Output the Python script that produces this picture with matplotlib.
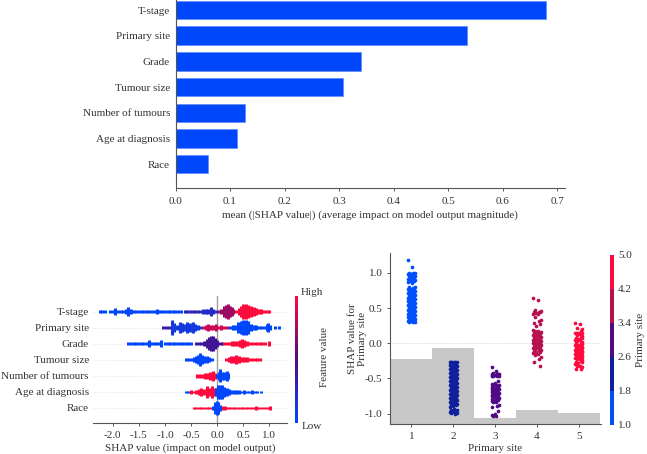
import numpy as np
import matplotlib
matplotlib.use('Agg')
import matplotlib.pyplot as plt
from matplotlib.colors import LinearSegmentedColormap, ListedColormap, BoundaryNorm, Normalize
from matplotlib.cm import ScalarMappable

W, H = 647, 454
plt.rcParams['font.family'] = ['Liberation Serif', 'DejaVu Serif']
plt.rcParams['font.size'] = 8.05
plt.rcParams['axes.unicode_minus'] = False
plt.rcParams['text.color'] = '#333333'
plt.rcParams['axes.labelcolor'] = '#333333'
plt.rcParams['xtick.color'] = '#333333'
plt.rcParams['ytick.color'] = '#333333'

BLUE = '#0047fb'
RED = '#ff0a3c'

# mean |SHAP| bars
features = ['T-stage', 'Primary site', 'Grade', 'Tumour size', 'Number of tumours', 'Age at diagnosis', 'Race']
mean_shap = [0.68, 0.535, 0.34, 0.307, 0.128, 0.113, 0.059]
bar_ticks = [0.0, 0.1, 0.2, 0.3, 0.4, 0.5, 0.6, 0.7]

# beeswarm: x position, swarm height, feature value (0 low .. 1 high)
tstage_x = [-2.25, -2.2, -2.15, -2.05, -2.0, -1.95, -1.9, -1.85, -1.8, -1.75, -1.7, -1.65, -1.6, -1.55, -1.5, -1.45, -1.4, -1.35, -1.3, -1.25, -1.2, -1.15, -1.1, -1.05, -1.0, -0.95, -0.9, -0.85, -0.8, -0.75, -0.7,
            -0.62, -0.57, -0.52, -0.47, -0.42, -0.37,
            -0.32, -0.27, -0.22, -0.17, -0.12, -0.08, -0.03,
            0.03, 0.08, 0.13, 0.17, 0.2, 0.24, 0.28, 0.31,
            0.37, 0.42, 0.46, 0.5, 0.55, 0.6, 0.65, 0.7, 0.75, 0.8, 0.85, 0.9, 0.95, 1.0]
tstage_n = [2, 2, 1, 1, 1, 5, 2, 1, 2, 3, 7, 4, 2, 1, 1, 2, 1, 2, 1, 1, 1, 4, 2, 1, 2, 1, 1, 2, 1, 1, 1,
            1, 1, 2, 1, 1, 1,
            2, 3, 4, 4, 8, 4, 2,
            2, 4, 9, 12, 13, 10, 7, 3,
            1, 6, 10, 13, 13, 11, 9, 7, 5, 4, 3, 2, 2, 2]
tstage_v = [0.0] * 31 + [0.3] * 6 + [0.22] * 7 + [0.72] * 8 + [1.0] * 14

primary_x = [-1.03, -0.98, -0.93, -0.87, -0.82, -0.77, -0.72, -0.67, -0.62, -0.57, -0.52, -0.47, -0.42, -0.37, -0.32,
             -0.27, -0.22, -0.17, -0.12, -0.07, -0.02, 0.03, 0.08, 0.13, 0.18,
             0.25, 0.3, 0.35, 0.4, 0.45, 0.5, 0.55, 0.6, 0.65, 0.7, 0.75, 0.8, 0.85, 0.9, 0.95, 0.98, 1.02, 1.11, 1.18]
primary_n = [1, 1, 2, 13, 7, 4, 10, 8, 6, 10, 7, 9, 5, 3, 2,
             2, 3, 5, 3, 3, 5, 2, 3, 2, 2,
             2, 3, 4, 9, 12, 13, 13, 11, 6, 3, 3, 2, 2, 2, 5, 7, 3, 1, 1]
primary_v = [0.35] * 3 + [0.12] * 12 + [0.85] * 10 + [0.0] * 19

grade_x = [-1.7, -1.65, -1.6, -1.55, -1.5, -1.45, -1.4, -1.35, -1.3, -1.25, -1.2, -1.15, -1.1, -1.07, -1.0, -0.95, -0.9, -0.85, -0.8, -0.75, -0.7, -0.65, -0.6, -0.55, -0.5,
           -0.4, -0.35, -0.3, -0.25, -0.2, -0.16, -0.12, -0.08, -0.04, 0.0, 0.05, 0.09,
           0.13, 0.18, 0.23, 0.28, 0.33, 0.38, 0.43, 0.47, 0.52, 0.57, 0.62, 0.67, 0.72, 0.77, 0.82, 0.87, 0.92, 0.99]
grade_n = [1, 1, 1, 1, 1, 1, 1, 1, 5, 1, 1, 1, 1, 5, 1, 1, 1, 1, 1, 1, 2, 1, 1, 1, 1,
           1, 1, 1, 3, 8, 12, 13, 13, 10, 6, 2, 1,
           1, 2, 2, 3, 3, 3, 5, 8, 5, 3, 2, 2, 2, 2, 1, 1, 2, 3]
grade_v = [0.0] * 25 + [0.42] * 12 + [1.0] * 18

tumour_x = [-0.6, -0.55, -0.5, -0.45, -0.4, -0.37, -0.33, -0.29, -0.25, -0.2, -0.15, -0.1,
            0.17, 0.22, 0.27, 0.32, 0.37, 0.42, 0.47, 0.52, 0.57, 0.62, 0.67, 0.72, 0.77, 0.82]
tumour_n = [1, 2, 2, 3, 5, 8, 12, 7, 5, 5, 3, 1,
            2, 3, 5, 6, 7, 6, 4, 3, 3, 2, 2, 2, 2, 1]
tumour_v = [0.0] * 12 + [1.0] * 14

number_x = [-0.38, -0.33, -0.28, -0.23, -0.18, -0.13, -0.08, -0.04,
            0.0, 0.03, 0.06, 0.1, 0.14, 0.18, 0.2]
number_n = [2, 3, 3, 4, 5, 7, 8, 4,
            3, 6, 11, 7, 7, 8, 4]
number_v = [1.0] * 8 + [0.0] * 7

age_x = [-0.6, -0.55, -0.5, -0.45, -0.4, -0.35, -0.3, -0.25, -0.2, -0.15, -0.1, -0.05,
         -0.02, 0.02, 0.06, 0.1, 0.14, 0.18, 0.22, 0.27, 0.32, 0.37, 0.42, 0.47, 0.52, 0.57, 0.62, 0.67, 0.72, 0.77, 0.85]
age_n = [1, 1, 2, 1, 3, 4, 7, 5, 10, 6, 11, 6,
         7, 12, 13, 12, 9, 6, 5, 2, 2, 2, 2, 1, 2, 1, 1, 2, 1, 1, 1]
age_v = [0.05, 0.05] + [1.0] * 10 + [0.0] * 19

race_x = [-0.45, -0.4, -0.35, -0.3, -0.25, -0.2, -0.15, -0.1, -0.05,
          0.05, 0.1, 0.15, 0.2, 0.25, 0.3, 0.35, 0.4, 0.45, 0.5, 0.55, 0.6, 0.65, 0.7, 0.75, 0.8, 0.87, 0.92, 0.97, 1.01,
          -0.07, -0.04, -0.01, 0.02, 0.05]
race_n = [1, 1, 1, 1, 1, 1, 1, 1, 2,
          2, 2, 2, 1, 1, 1, 1, 1, 1, 1, 1, 1, 1, 1, 2, 1, 1, 1, 1, 2,
          3, 10, 12, 10, 4]
race_v = [1.0] * 29 + [0.0] * 5

swarm_x = [tstage_x, primary_x, grade_x, tumour_x, number_x, age_x, race_x]
swarm_n = [tstage_n, primary_n, grade_n, tumour_n, number_n, age_n, race_n]
swarm_v = [tstage_v, primary_v, grade_v, tumour_v, number_v, age_v, race_v]
swarm_ticks = [-2.0, -1.5, -1.0, -0.5, 0.0, 0.5, 1.0]

# dependence plot, SHAP value of each patient per primary site
site_1 = [1.18, 1.09, 1.0, 1.0, 1.0, 0.99, 0.99, 0.98, 0.98, 0.97, 0.97, 0.96, 0.95, 0.95, 0.94, 0.93, 0.92, 0.92, 0.91, 0.9, 0.9, 0.89, 0.88, 0.88, 0.87, 0.86,
          0.8, 0.8, 0.79, 0.79, 0.78, 0.77, 0.77, 0.76, 0.75, 0.75, 0.74, 0.73, 0.72, 0.72, 0.71, 0.7, 0.7, 0.69, 0.68, 0.67, 0.67, 0.66, 0.65, 0.65, 0.64, 0.63, 0.62, 0.62, 0.61, 0.6,
          0.6, 0.59, 0.58, 0.57, 0.57, 0.56, 0.55, 0.55, 0.54, 0.53, 0.52, 0.52, 0.51, 0.5, 0.5, 0.49, 0.48, 0.47, 0.47, 0.46, 0.45, 0.45, 0.44, 0.43, 0.42, 0.42, 0.41, 0.4, 0.4,
          0.39, 0.38, 0.37, 0.37, 0.36, 0.35, 0.35, 0.34, 0.33, 0.33, 0.32, 0.32, 0.31, 0.31, 0.3, 0.3, 0.3]
site_2 = [-0.26, -0.26, -0.26, -0.27, -0.27, -0.27, -0.28, -0.28, -0.31, -0.31, -0.32, -0.32, -0.33, -0.34, -0.34, -0.35, -0.36, -0.37, -0.37, -0.38, -0.39, -0.4, -0.4, -0.41, -0.42, -0.43, -0.43, -0.44, -0.45, -0.46,
          -0.46, -0.47, -0.48, -0.49, -0.49, -0.5, -0.51, -0.52, -0.52, -0.53, -0.54, -0.55, -0.55, -0.56, -0.57, -0.58, -0.58, -0.59, -0.6, -0.61, -0.61, -0.62, -0.63, -0.64, -0.64, -0.65, -0.66, -0.67, -0.67, -0.68,
          -0.69, -0.7, -0.7, -0.71, -0.72, -0.73, -0.73, -0.74, -0.75, -0.76, -0.76, -0.77, -0.78, -0.79, -0.79, -0.8, -0.81, -0.82, -0.82, -0.83, -0.84, -0.85, -0.85, -0.86, -0.87, -0.88, -0.88, -0.89, -0.9,
          -0.94, -0.95, -0.95, -0.96, -0.96, -0.97, -0.97, -0.98, -0.98, -0.99, -0.99, -1.0]
site_3 = [-0.34, -0.39, -0.42, -0.43, -0.43, -0.44, -0.44, -0.45, -0.45, -0.45, -0.46, -0.46, -0.47, -0.47, -0.53, -0.56, -0.58, -0.59, -0.6, -0.6, -0.61, -0.62, -0.62, -0.63, -0.63, -0.64, -0.65, -0.65, -0.66, -0.67,
          -0.67, -0.68, -0.69, -0.7, -0.7, -0.71, -0.72, -0.73, -0.73, -0.74, -0.75, -0.76, -0.77, -0.78, -0.78, -0.79, -0.8, -0.81, -0.82, -0.83, -0.84, -0.88, -0.89, -0.91, -0.97, -1.0, -1.02, -1.03, -1.03]
site_4 = [0.65, 0.62, 0.47, 0.46, 0.45, 0.44, 0.44, 0.43, 0.42, 0.41, 0.38, 0.33, 0.31, 0.29, 0.28, 0.25, 0.19, 0.18, 0.17, 0.16, 0.15, 0.14, 0.13, 0.13, 0.12, 0.11, 0.1, 0.09, 0.09, 0.08, 0.07, 0.06, 0.05, 0.05, 0.04, 0.03,
          0.03, 0.02, 0.01, 0.0, 0.0, -0.01, -0.02, -0.02, -0.03, -0.04, -0.05, -0.05, -0.06, -0.07, -0.08, -0.09, -0.1, -0.11, -0.12, -0.13, -0.14, -0.15, -0.17, -0.2, -0.22, -0.26, -0.32]
site_5 = [0.29, 0.27, 0.22, 0.2, 0.18, 0.15, 0.15, 0.14, 0.14, 0.13, 0.12, 0.1, 0.09, 0.08, 0.07, 0.06, 0.05, 0.05, 0.03, 0.02, 0.01, 0.0, -0.01, -0.02, -0.03, -0.04, -0.04, -0.05, -0.06, -0.07, -0.07, -0.08, -0.09, -0.1, -0.1, -0.11,
          -0.12, -0.13, -0.13, -0.14, -0.15, -0.16, -0.16, -0.17, -0.18, -0.19, -0.19, -0.2, -0.21, -0.22, -0.23, -0.24, -0.25, -0.26, -0.27, -0.28, -0.3, -0.32, -0.33, -0.34, -0.36, -0.37]
site_values = [site_1, site_2, site_3, site_4, site_5]
site_colors = ['#0050ff', '#10209c', '#4f0a84', '#b8104f', '#ff0a3c']
site_hist = [-0.22, -0.06, -1.06, -0.953, -0.99]
site_bounds = [1.0, 1.8, 2.6, 3.4, 4.2, 5.0]
jitter = [-0.085, 0.025, -0.045, 0.085, 0.05, -0.065, 0.07, -0.015]


def px_axes(fig, left, top, right, bottom):
    return fig.add_axes([left / W, 1 - bottom / H, (right - left) / W, (bottom - top) / H])


def tidy(ax, pad):
    for s in ['top', 'right']:
        ax.spines[s].set_visible(False)
    for s in ['left', 'bottom']:
        ax.spines[s].set_color('#555555')
    ax.tick_params(length=2, width=0.7, pad=pad, color='#555555')


fig = plt.figure(figsize=(W / 100, H / 100), dpi=100)

# top: bars
ax1 = px_axes(fig, 175.5, 0, 565, 188.3)
ax1.barh(range(len(features)), mean_shap, height=0.72, color=BLUE, edgecolor='#5f8cff', linewidth=0.5)
ax1.set_xlim(0, 0.714)
ax1.set_ylim(6.94, -0.39)
ax1.set_yticks(range(len(features)), features)
ax1.set_xticks(bar_ticks)
ax1.set_xlabel('mean (|SHAP value|) (average impact on model output magnitude)', labelpad=3.5)
tidy(ax1, 4)
ax1.tick_params(axis='y', length=0, pad=4)

# bottom left: beeswarm
shap_cmap = LinearSegmentedColormap.from_list('shap', [BLUE, '#4f0a84', RED])
ax2 = px_axes(fig, 93, 296, 287, 423)
for row in range(len(features)):
    ax2.axhline(row, color='#e6e6e6', lw=0.6, ls=(0, (1, 1)), zorder=0)
ax2.axvline(0, color='#a0a0a0', lw=1.0, zorder=1)
step = 1 / 16
for row in range(len(features)):
    for x, n, v in zip(swarm_x[row], swarm_n[row], swarm_v[row]):
        half = (n + 1.5) * step / 2
        ax2.vlines(x, row - half, row + half, color=shap_cmap(v), lw=2.2, zorder=2)
ax2.set_xlim(-2.38, 1.34)
ax2.set_ylim(6.95, -0.98)
ax2.set_yticks(range(len(features)), features)
ax2.set_xticks(swarm_ticks)
ax2.set_xlabel('SHAP value (impact on model output)', labelpad=2.5)
tidy(ax2, 3.5)
ax2.spines['left'].set_visible(False)
ax2.tick_params(axis='y', length=0, pad=3)

cax2 = px_axes(fig, 295, 296, 298, 423)
cb2 = fig.colorbar(ScalarMappable(Normalize(0, 1), shap_cmap), cax=cax2)
cb2.set_ticks([])
cb2.outline.set_visible(False)
cax2.text(1.9, 1.024, 'High', transform=cax2.transAxes, va='center', ha='left')
cax2.text(2.3, -0.03, 'Low', transform=cax2.transAxes, va='center', ha='left')
cb2.set_label('Feature value')
cax2.yaxis.set_label_coords(8.3, 0.52)

# bottom right: dependence plot
ax3 = px_axes(fig, 390, 253, 600.7, 424)
ymin = -1.148
ax3.bar(range(1, 6), [h - ymin for h in site_hist], width=1.0, bottom=ymin, color='#c8c8c8', linewidth=0, zorder=1)
ax3.axhline(0, color='#d5d5d5', lw=0.6, ls=(0, (1, 1)), zorder=1)
for i, values in enumerate(site_values):
    xs = [i + 1 + jitter[k % len(jitter)] for k in range(len(values))]
    ax3.scatter(xs, values, s=7, color=site_colors[i], linewidths=0, zorder=3)
ax3.set_xlim(0.49, 5.52)
ax3.set_ylim(ymin, 1.284)
ax3.set_xticks([1, 2, 3, 4, 5])
ax3.set_yticks([-1.0, -0.5, 0.0, 0.5, 1.0])
ax3.set_xlabel('Primary site', labelpad=2.5)
ax3.set_ylabel('SHAP value for\nPrimary site')
ax3.yaxis.set_label_coords(-0.109, 0.5)
tidy(ax3, 3.5)

cax3 = px_axes(fig, 610, 254.7, 613.7, 425)
cb3 = fig.colorbar(ScalarMappable(BoundaryNorm(site_bounds, 5), ListedColormap(site_colors)), cax=cax3, ticks=site_bounds)
cb3.ax.set_yticklabels([f'{b:.1f}' for b in site_bounds])
cb3.ax.tick_params(length=0, pad=3)
cb3.outline.set_visible(False)
cb3.set_label('Primary site', labelpad=3)

fig.savefig('out.png', dpi=100)
